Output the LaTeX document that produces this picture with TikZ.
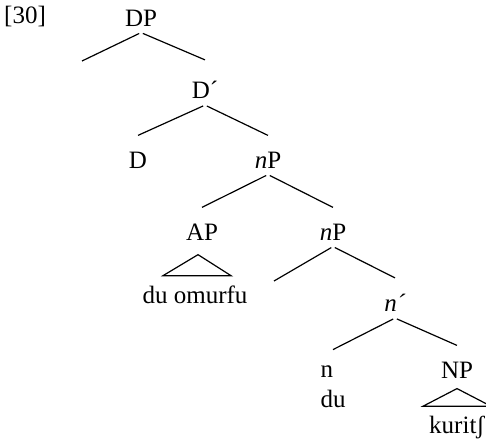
\documentclass[tikz,border=0pt]{standalone}
\usepackage{fontspec}
\setmainfont{Liberation Serif}
\usetikzlibrary{arrows}
\tikzstyle{cat} = [inner sep=3pt, font=\fontsize{12.5}{15}\selectfont]
\tikzstyle{branch} = [semithick, shorten <=1pt]
\tikzstyle{roof} = [semithick, line join=miter]

\begin{document}
\begin{tikzpicture}[node distance=36pt]
\useasboundingbox (0,0) rectangle (243pt,-222pt);
\node (ex) [cat] at (12.5pt,-8.5pt) {[30]};
\node (dp) [cat] at (70.5pt,-9pt) {DP};
\coordinate [below of=dp, xshift=-29.5pt, yshift=14.5pt] (spec);
\node (dbar) [cat, below of=dp, xshift=32pt] {D´};
\node (d) [cat, below of=dbar, xshift=-33.5pt, yshift=1pt] {D};
\node (np) [cat, below of=dbar, xshift=31.5pt, yshift=1pt] {\textit{n}P};
\node (ap) [cat, below of=np, xshift=-33pt] {AP};
\node (npb) [cat, below of=np, xshift=32.5pt] {\textit{n}P};
\coordinate [below of=npb, xshift=-29.5pt, yshift=11.5pt] (specb);
\node (nbar) [cat, below of=npb, xshift=31pt, yshift=0.5pt] {\textit{n´}};
\node (n) [cat, align=left, below of=nbar, xshift=-31pt, yshift=-6pt] {n\\du};
\node (nroot) [cat, below of=nbar, xshift=31pt, yshift=2.5pt] {NP};
\node (omurfu) [cat, below of=ap, xshift=-3.5pt, yshift=4.5pt] {du omurfu};
\node (kurit) [cat, below of=nroot, yshift=7pt] {kuritʃ};
\draw [branch] (dp.south) -- (spec);
\draw [branch] (dp.south) -- ([yshift=7.5pt]dbar.north);
\draw [branch] (dbar.south) -- ([yshift=5pt]d.north);
\draw [branch] (dbar.south) -- ([yshift=5pt]np.north);
\draw [branch] (np.south) -- ([yshift=5pt]ap.north);
\draw [branch] (np.south) -- ([yshift=5pt]npb.north);
\draw [branch] (npb.south) -- (specb);
\draw [branch] (npb.south) -- ([yshift=5pt]nbar.north);
\draw [branch] (nbar.south) -- ([yshift=5pt]n.north);
\draw [branch] (nbar.south) -- ([yshift=5pt]nroot.north);
\draw [roof] ([xshift=-2pt,yshift=-4pt]ap.south) -- ([xshift=-16pt,yshift=2pt]omurfu.north) -- ([xshift=18pt,yshift=2pt]omurfu.north) -- cycle;
\draw [roof] ([yshift=-2pt]nroot.south) -- ([xshift=-17pt,yshift=2pt]kurit.north) -- ([xshift=17pt,yshift=2pt]kurit.north) -- cycle;
\end{tikzpicture}
\end{document}
